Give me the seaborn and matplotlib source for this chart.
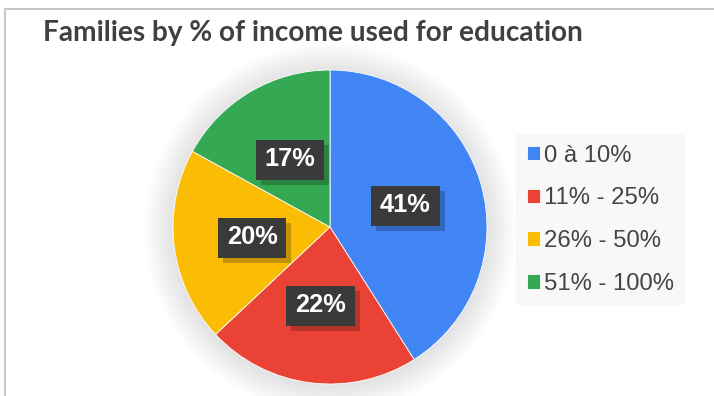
import matplotlib
matplotlib.use("Agg")
import matplotlib.pyplot as plt
from matplotlib.patches import Circle, Rectangle
from matplotlib.lines import Line2D
import seaborn as sns

# Data
categories = ["0 à 10%", "11% - 25%", "26% - 50%", "51% - 100%"]
shares = [41, 22, 20, 17]
colors = ["#4285F4", "#EA4335", "#FBBC04", "#34A853"]
title = "Families by % of income used for education"

sns.set_theme(style="white")
plt.rcParams["font.family"] = ["Liberation Sans", "DejaVu Sans"]

W, H = 714, 396
fig = plt.figure(figsize=(W / 100, H / 100), dpi=100)
fig.patch.set_facecolor("white")

# Pie placed by pixel centre and radius
cx, cy, r = 330, 227, 157
lim = 1.25
side = 2 * lim * r
ax = fig.add_axes([(cx - side / 2) / W, (H - cy - side / 2) / H, side / W, side / H])
ax.set_xlim(-lim, lim)
ax.set_ylim(-lim, lim)
ax.set_aspect("equal")
ax.axis("off")

# soft drop shadow around the pie
for i in range(14):
    ax.add_patch(Circle((0, -0.01), 1.0 + 0.013 * (i + 1), facecolor="black",
                        alpha=0.008, lw=0, zorder=0))

wedges, texts, autotexts = ax.pie(
    shares, colors=colors, startangle=90, counterclock=False, radius=1,
    autopct=lambda p: f"{p:.0f}%", pctdistance=0.5,
    wedgeprops=dict(linewidth=0.6, edgecolor="white"),
    textprops=dict(color="white", fontsize=18.3, fontweight="bold"),
)
for t in autotexts:
    t.set_zorder(8)

leg = ax.legend(
    wedges, categories, loc="upper left",
    bbox_to_anchor=(516 / W, 1 - 134 / H), bbox_transform=fig.transFigure,
    frameon=True, fancybox=False, facecolor="#f8f8f8", edgecolor="none",
    framealpha=1, fontsize=17.2, handlelength=0.55, handleheight=0.55,
    handletextpad=0.2, labelspacing=0.87, borderpad=0.44, borderaxespad=0,
)
for t in leg.get_texts():
    t.set_color("#444444")

fig.text(43 / W, 1 - 41 / H, title, fontsize=20.2, fontweight="bold",
         family=["Lato", "DejaVu Sans"], color="#404040", va="baseline", ha="left")

# frame lines along top and left edges
fig.add_artist(Line2D([5 / W, 1], [1 - 8.5 / H] * 2, transform=fig.transFigure,
                      color="#c8c8c8", lw=1.5))
fig.add_artist(Line2D([5 / W] * 2, [0, 1 - 8.5 / H], transform=fig.transFigure,
                      color="#c8c8c8", lw=1.5))

# dark label boxes with drop shadows, sized from the drawn text extents
fig.canvas.draw()
pad_x, box_h = 9, 40
for t in autotexts:
    bb = t.get_window_extent()
    x0 = bb.x0 - pad_x
    y0 = (bb.y0 + bb.y1) / 2 - box_h / 2 - 1
    w = bb.width + 2 * pad_x
    shadow = Rectangle((x0 + 5, y0 - 5), w, box_h, transform=None,
                       facecolor="black", alpha=0.22, edgecolor="none", zorder=6)
    label_box = Rectangle((x0, y0), w, box_h, transform=None,
                          facecolor="#3a3a3a", edgecolor="none", zorder=7)
    for p in (shadow, label_box):
        p.set_clip_on(False)
        ax.add_artist(p)

fig.savefig("out.png", dpi=100)
